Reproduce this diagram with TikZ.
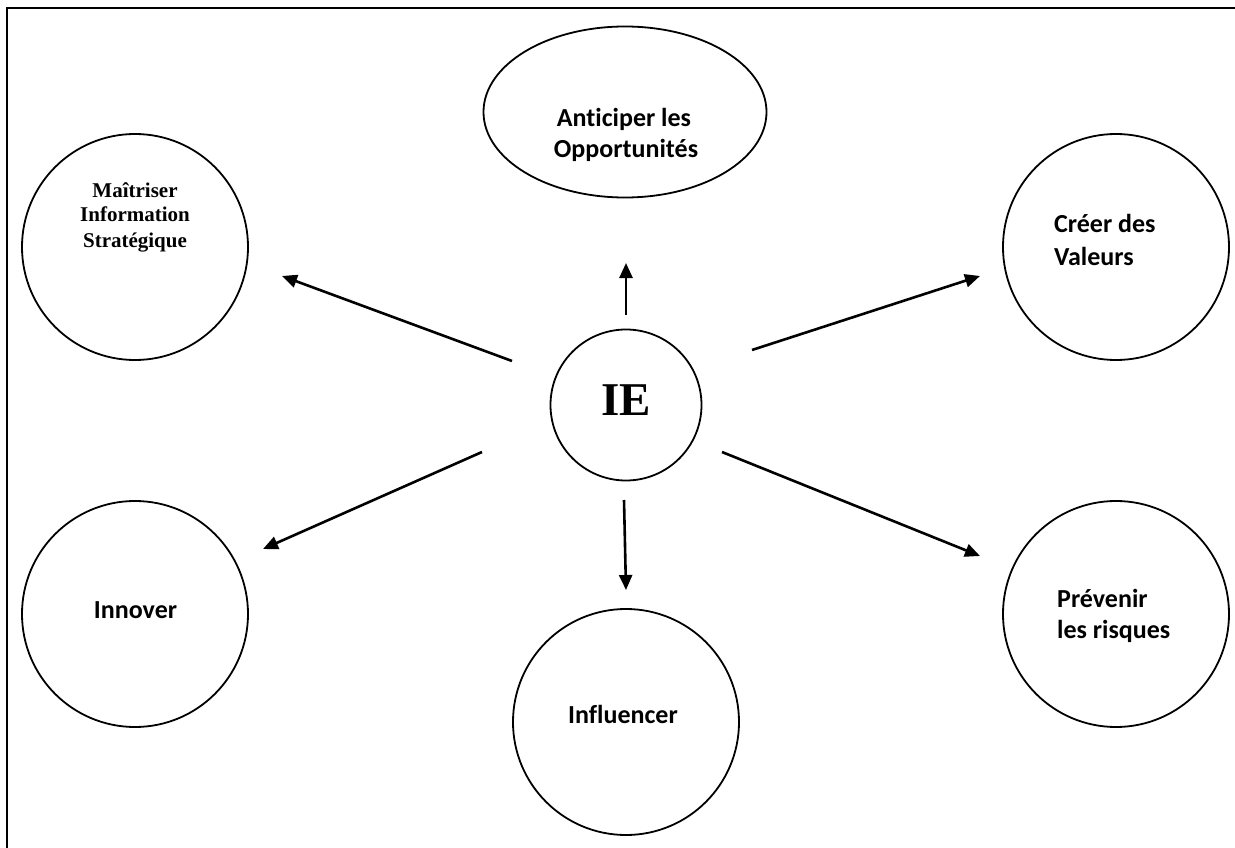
\documentclass[tikz,border=0pt]{standalone}
\usepackage{fontspec}
\setmainfont{Liberation Serif}
\newfontfamily\calfont[Ligatures={NoCommon}]{Carlito}
\usetikzlibrary{arrows.meta,shapes.geometric}
\begin{document}
\begin{tikzpicture}[x=1pt,y=-1pt,
  bubble/.style={draw, circle, line width=1.8pt, minimum size=226pt, inner sep=0pt},
  oval/.style={draw, ellipse, line width=1.8pt, minimum width=283pt, minimum height=171pt, inner sep=0pt},
  hub/.style={draw, circle, line width=1.8pt, minimum size=151pt, inner sep=0pt},
  lbl/.style={anchor=base, font=\calfont\bfseries\fontsize{26}{31}\selectfont, inner sep=0pt},
  lbll/.style={anchor=base west, font=\calfont\bfseries\fontsize{26}{31}\selectfont, inner sep=0pt},
  tlbl/.style={anchor=base, font=\bfseries\fontsize{21}{25}\selectfont, inner sep=0pt},
  link/.style={line width=2.6pt, -{Triangle[length=15pt,width=13pt]}}]
\useasboundingbox (0,0) rectangle (1235,848);
\draw[line width=2.8pt] (7,849) -- (7,8) -- (1236,8);

% shapes
\node[hub] (ie) at (626,405) {};
\node[oval] (ant) at (625,112) {};
\node[bubble] (mai) at (135,247) {};
\node[bubble] (cre) at (1116,247) {};
\node[bubble] (inn) at (135,614) {};
\node[bubble] (inf) at (626,722) {};
\node[bubble] (pre) at (1116,614) {};

% labels
\node[anchor=base, font=\bfseries\fontsize{47}{50}\selectfont, inner sep=0pt] (tie) at (626,415) {IE};
\node[lbl] (tant1) at (624,127) {Anticiper les};
\node[lbl] (tant2) at (626,158) {Opportunités};
\node[tlbl] (tmai1) at (135,197) {Maîtriser};
\node[tlbl] (tmai2) at (135,222) {Information};
\node[tlbl] (tmai3) at (135,247) {Stratégique};
\node[lbll] (tcre1) at (1054,233) {Créer des};
\node[lbll] (tcre2) at (1054,265) {Valeurs};
\node[lbll] (tpre1) at (1057,607) {Prévenir};
\node[lbll] (tpre2) at (1057,638) {les risques};
\node[lbl] (tinn) at (135.5,618) {Innover};
\node[lbl] (tinf) at (623,723) {Influencer};

% arrow end points
\coordinate (a1) at (626,315); \coordinate (a2) at (626,263);
\coordinate (b1) at (512,361); \coordinate (b2) at (282,276);
\coordinate (c1) at (752,350); \coordinate (c2) at (980,276);
\coordinate (d1) at (482,452); \coordinate (d2) at (263,549);
\coordinate (e1) at (624,500); \coordinate (e2) at (626,590);
\coordinate (f1) at (722,452); \coordinate (f2) at (980,556);

\draw[link] (a1) -- (a2);
\draw[link] (b1) -- (b2);
\draw[link] (c1) -- (c2);
\draw[link] (d1) -- (d2);
\draw[link] (e1) -- (e2);
\draw[link] (f1) -- (f2);
\end{tikzpicture}
\end{document}
